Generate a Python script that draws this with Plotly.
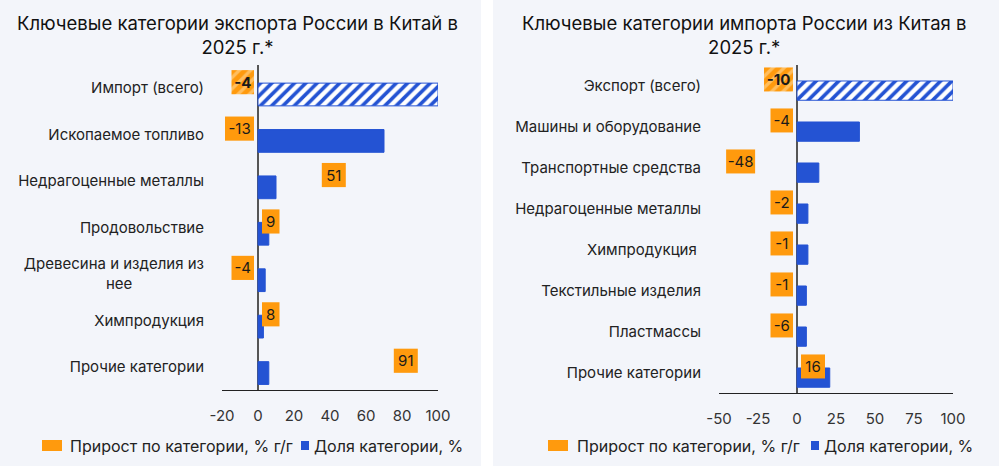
import plotly.graph_objects as go

# ---------------- data ----------------
left_title = "Ключевые категории экспорта России в Китай в<br>2025 г.*"
left_categories = ["Импорт (всего)", "Ископаемое топливо", "Недрагоценные металлы",
                   "Продовольствие", "Древесина и изделия из<br>нее" + "\u00a0" * 17,
                   "Химпродукция", "Прочие категории"]
left_share = [100, 70, 10, 6, 4, 3, 6]
left_growth = [-4, -13, 51, 9, -4, 8, 91]
left_ticks = [-20, 0, 20, 40, 60, 80, 100]

right_title = "Ключевые категории импорта России из Китая в<br>2025 г.*"
right_categories = ["Экспорт (всего)", "Машины и оборудование", "Транспортные средства",
                    "Недрагоценные металлы", "Химпродукция ", "Текстильные изделия",
                    "Пластмассы", "Прочие категории"]
right_share = [100, 40, 14, 7, 7, 6, 6, 21]
right_growth = [-10, -4, -48, -2, -1, -1, -6, 16]
right_ticks = [-50, -25, 0, 25, 50, 75, 100]

legend_growth = "Прирост по категории, % г/г"
legend_share = "Доля категории, %"

# ---------------- style ----------------
W, H = 999, 466
FONT = "Inter"
BLUE = "#2453D3"
ORANGE = "#FF9A0D"
PANEL = "#F3F5FA"
TXT = "#222222"


def px(xp):
    return xp / W


def py(yp):
    return (H - yp) / H


def box_extent(v, ppu):
    """Label box placed at the inner end of the growth value, kept off the zero line."""
    s = str(v)
    digits = sum(c.isdigit() for c in s)
    w = 11 + 6.5 * digits + (5 if v < 0 else 0)
    gap = 4
    if v >= 0:
        right = v * ppu - gap
        left = right - w
        if left < gap:
            left, right = gap, gap + w
    else:
        left = v * ppu + gap
        right = left + w
        if right > -gap:
            right, left = -gap, -gap - w
    return left / ppu, right / ppu


fig = go.Figure()

panels = [
    dict(cats=left_categories, share=left_share, growth=left_growth, ticks=left_ticks,
         xr=[-20, 100], xd=[222, 438], yd=[65, 390], xa="x", ya="y",
         blue_off=-0.11, blue_w=0.49, or_off=-0.39, or_w=0.52),
    dict(cats=right_categories, share=right_share, growth=right_growth, ticks=right_ticks,
         xr=[-50, 100], xd=[719, 953], yd=[65, 393], xa="x2", ya="y2",
         blue_off=-0.11, blue_w=0.47, or_off=-0.44, or_w=0.585),
]

for i, p in enumerate(panels):
    n = len(p["cats"])
    ppu = (p["xd"][1] - p["xd"][0]) / (p["xr"][1] - p["xr"][0])
    # share bars (first = total, hatched)
    fig.add_trace(go.Bar(
        y=p["cats"], x=p["share"], orientation="h", xaxis=p["xa"], yaxis=p["ya"],
        offset=p["blue_off"], width=p["blue_w"],
        marker=dict(color=BLUE, line=dict(color=BLUE, width=1),
                    pattern=dict(shape=["/"] + [""] * (n - 1),
                                 bgcolor=["white"] + [BLUE] * (n - 1),
                                 fgcolor=BLUE, size=8, solidity=0.45, fillmode="replace")),
        hoverinfo="skip", showlegend=False))
    # growth label boxes
    ext = [box_extent(v, ppu) for v in p["growth"]]
    texts = ["<b>%d</b>" % p["growth"][0]] + [str(v) for v in p["growth"][1:]]
    fig.add_trace(go.Bar(
        y=p["cats"], x=[b - a for a, b in ext], base=[a for a, b in ext], orientation="h",
        xaxis=p["xa"], yaxis=p["ya"], offset=p["or_off"], width=p["or_w"],
        marker=dict(color=ORANGE, line=dict(width=0),
                    pattern=dict(shape=["/"] + [""] * (n - 1), fgcolor="#FFE2B0",
                                 size=8, solidity=0.4, fillmode="overlay")),
        text=texts, textposition="inside", insidetextanchor="middle", textangle=0,
        insidetextfont=dict(family=FONT, size=15, color="#1A1A1A"),
        hoverinfo="skip", showlegend=False))

    xkey = "xaxis" if i == 0 else "xaxis2"
    ykey = "yaxis" if i == 0 else "yaxis2"
    fig.update_layout(**{
        xkey: dict(domain=[px(p["xd"][0]), px(p["xd"][1])], range=p["xr"],
                   tickvals=p["ticks"], ticktext=[str(t) for t in p["ticks"]],
                   showgrid=False, zeroline=True, zerolinecolor="#555555", zerolinewidth=1.5,
                   showline=True, linecolor="#222222", linewidth=1,
                   ticks="outside", ticklen=12, tickcolor="rgba(0,0,0,0)",
                   tickfont=dict(family=FONT, size=15, color="#333333"),
                   anchor=p["ya"], fixedrange=True, automargin=False),
        ykey: dict(domain=[py(p["yd"][1]), py(p["yd"][0])], type="category",
                   range=[n - 0.5, -0.5], showgrid=False, zeroline=False, showline=False,
                   ticks="outside", ticklen=14, tickcolor="rgba(0,0,0,0)",
                   tickfont=dict(family=FONT, size=15, color=TXT),
                   anchor=p["xa"], fixedrange=True, automargin=False),
    })

shapes = []
for (x0, x1) in [(-20, 481), (493, 1020)]:
    shapes.append(dict(type="rect", xref="paper", yref="paper",
                       x0=px(x0), x1=px(x1), y0=py(480), y1=py(-14),
                       fillcolor=PANEL, line=dict(width=0), layer="below"))

# legend swatches
legend_pos = [(42, 68, 301, 312), (548, 575, 811, 822)]
for (ox, otx, bx, btx) in legend_pos:
    shapes.append(dict(type="rect", xref="paper", yref="paper",
                       x0=px(ox), x1=px(ox + 20), y0=py(451), y1=py(440),
                       fillcolor=ORANGE, line=dict(width=0)))
    shapes.append(dict(type="rect", xref="paper", yref="paper",
                       x0=px(bx), x1=px(bx + 8), y0=py(450), y1=py(441),
                       fillcolor=BLUE, line=dict(width=0)))

annotations = []
for (ox, otx, bx, btx) in legend_pos:
    annotations.append(dict(x=px(otx), y=py(446), xref="paper", yref="paper",
                            text=legend_growth, showarrow=False, xanchor="left",
                            yanchor="middle", font=dict(family=FONT, size=16, color=TXT)))
    annotations.append(dict(x=px(btx), y=py(446), xref="paper", yref="paper",
                            text=legend_share, showarrow=False, xanchor="left",
                            yanchor="middle", font=dict(family=FONT, size=16, color=TXT)))

for title, cx in [(left_title, 237), (right_title, 744)]:
    annotations.append(dict(x=px(cx), y=py(35), xref="paper", yref="paper", text=title,
                            showarrow=False, xanchor="center", yanchor="middle",
                            font=dict(family=FONT, size=18.5, color="#111111")))

fig.update_layout(
    width=W, height=H, margin=dict(l=0, r=0, t=0, b=0),
    paper_bgcolor="white", plot_bgcolor="rgba(0,0,0,0)",
    barmode="overlay", showlegend=False,
    uniformtext=dict(minsize=15, mode="show"),
    shapes=shapes, annotations=annotations,
    font=dict(family=FONT, color=TXT),
)

fig.write_html("out.html")
